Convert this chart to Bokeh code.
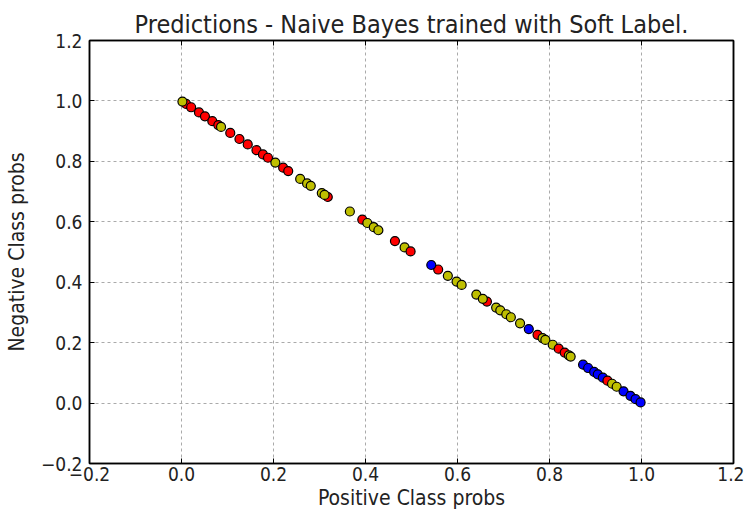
from bokeh.plotting import figure
from bokeh.models import (Range1d, FixedTicker, CustomJSTickFormatter, LinearAxis,
                          ColumnDataSource)
from bokeh.embed import file_html
from bokeh.resources import INLINE

title_text = "Predictions - Naive Bayes trained with Soft Label."
x_label = "Positive Class probs"
y_label = "Negative Class probs"
ticks = [-0.2, 0.0, 0.2, 0.4, 0.6, 0.8, 1.0, 1.2]

positive_probs = [0.010, 0.002, 0.021, 0.038, 0.051, 0.067, 0.080, 0.086, 0.106, 0.126,
                  0.144, 0.163, 0.177, 0.188, 0.204, 0.221, 0.232, 0.258, 0.273, 0.281,
                  0.318, 0.305, 0.311, 0.366, 0.393, 0.404, 0.418, 0.428, 0.464, 0.485,
                  0.498, 0.558, 0.543, 0.579, 0.598, 0.609, 0.641, 0.664, 0.655, 0.684,
                  0.693, 0.706, 0.716, 0.736, 0.755, 0.774, 0.785, 0.791, 0.807, 0.820,
                  0.833, 0.842, 0.846, 0.873, 0.884, 0.897, 0.905, 0.916, 0.926, 0.936,
                  0.946, 0.961, 0.976, 0.987, 0.998]
negative_probs = [0.990, 0.998, 0.979, 0.962, 0.949, 0.933, 0.920, 0.914, 0.894, 0.874,
                  0.856, 0.837, 0.823, 0.812, 0.796, 0.779, 0.768, 0.742, 0.727, 0.719,
                  0.682, 0.695, 0.689, 0.634, 0.607, 0.596, 0.582, 0.572, 0.536, 0.515,
                  0.502, 0.442, 0.457, 0.421, 0.402, 0.391, 0.359, 0.336, 0.345, 0.316,
                  0.307, 0.294, 0.284, 0.264, 0.245, 0.226, 0.215, 0.209, 0.193, 0.180,
                  0.167, 0.158, 0.154, 0.127, 0.116, 0.103, 0.095, 0.084, 0.074, 0.064,
                  0.054, 0.039, 0.024, 0.013, 0.002]
point_classes = ["r", "y", "r", "r", "r", "r", "r", "y", "r", "r",
                 "r", "r", "r", "r", "y", "r", "r", "y", "y", "y",
                 "r", "y", "y", "y", "r", "y", "y", "y", "r", "y",
                 "r", "r", "b", "y", "y", "y", "y", "r", "y", "y",
                 "y", "y", "y", "y", "b", "r", "y", "y", "y", "r",
                 "r", "y", "y", "b", "b", "b", "b", "b", "r", "y",
                 "y", "b", "b", "b", "b"]
class_colors = {"r": "#ff0000", "y": "#bfbf00", "b": "#0000ff"}

FONT = "DejaVu Sans Condensed"

src = ColumnDataSource(dict(
    x=positive_probs,
    y=negative_probs,
    c=[class_colors[k] for k in point_classes],
))

p = figure(width=744, height=516, output_backend="svg", toolbar_location=None,
           x_range=Range1d(-0.2, 1.2), y_range=Range1d(-0.2, 1.2),
           min_border_left=89, min_border_right=11, min_border_top=40,
           min_border_bottom=53, background_fill_color="white",
           border_fill_color="white")

p.title.text = title_text
p.title.align = "center"
p.title.text_font = FONT
p.title.text_font_size = "25px"
p.title.text_font_style = "normal"
p.title.text_color = "#222222"
p.title.standoff = 3

p.outline_line_color = "black"
p.outline_line_width = 1.5

formatter = CustomJSTickFormatter(code="return tick.toFixed(1).replace('-', '\u2212');")
blank = CustomJSTickFormatter(code="return '';")

for ax in (p.xaxis[0], p.yaxis[0]):
    ax.ticker = FixedTicker(ticks=ticks)
    ax.formatter = formatter
    ax.major_tick_in = 5
    ax.major_tick_out = 0
    ax.minor_tick_line_color = None
    ax.major_label_text_font = FONT
    ax.major_label_text_font_size = "19px"
    ax.major_label_text_color = "#222222"
    ax.axis_label_text_font = FONT
    ax.axis_label_text_font_size = "21px"
    ax.axis_label_text_font_style = "normal"
    ax.axis_label_text_color = "#222222"
    ax.axis_line_color = "black"
    ax.axis_line_width = 1.5

p.xaxis.axis_label = x_label
p.yaxis.axis_label = y_label
p.xaxis.major_label_standoff = 3
p.yaxis.major_label_standoff = 7
p.xaxis.axis_label_standoff = 2
p.yaxis.axis_label_standoff = 9

for loc in ("above", "right"):
    ax = LinearAxis(ticker=FixedTicker(ticks=ticks), formatter=blank,
                    major_tick_in=5, major_tick_out=0,
                    minor_tick_line_color=None, major_label_text_font_size="1px",
                    major_label_standoff=0, axis_line_color="black",
                    axis_line_width=1.5)
    p.add_layout(ax, loc)

p.xgrid.ticker = FixedTicker(ticks=ticks)
p.ygrid.ticker = FixedTicker(ticks=ticks)
for g in (p.xgrid[0], p.ygrid[0]):
    g.grid_line_color = "#aaaaaa"
    g.grid_line_dash = "3 3"
    g.grid_line_width = 1

p.scatter("x", "y", source=src, size=9, fill_color="c", line_color="black",
          line_width=1.2)

open("out.html", "w").write(file_html(p, INLINE))
